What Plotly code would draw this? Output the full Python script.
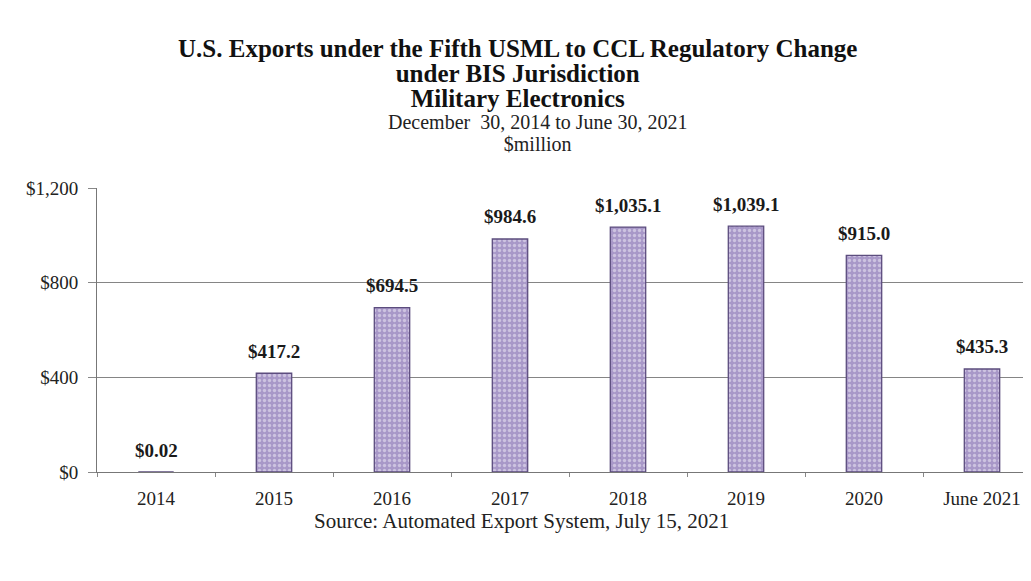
import plotly.graph_objects as go

categories = ["2014", "2015", "2016", "2017", "2018", "2019", "2020", "June 2021"]
values = [0.02, 417.2, 694.5, 984.6, 1035.1, 1039.1, 915.0, 435.3]
labels = ["$0.02", "$417.2", "$694.5", "$984.6", "$1,035.1", "$1,039.1", "$915.0", "$435.3"]
y_ticks = [0, 400, 800, 1200]
y_tick_labels = ["$0", "$400", "$800", "$1,200"]

title_lines = ["U.S. Exports under the Fifth USML to CCL Regulatory Change",
               "under BIS Jurisdiction", "Military Electronics"]
subtitle_lines = ["December  30, 2014 to June 30, 2021", "$million"]
source_text = "Source: Automated Export System, July 15, 2021"

FONT = "Liberation Serif, Times New Roman, serif"

W, H = 1031, 581
OFF = 8  # page body margin
M_L, M_R, M_T, M_B = 89, 0, 180, 117
PLOT_W = W - M_L - M_R
PLOT_H = H - M_T - M_B
BAND = 118.0


def py(yy):
    # screen pixel row -> paper y
    return (H - M_B - (yy - OFF)) / PLOT_H


def px(xx):
    # screen pixel column -> paper x
    return (xx - OFF - M_L) / PLOT_W


fig = go.Figure()
fig.add_trace(go.Bar(
    x=categories, y=values, width=0.3,
    marker=dict(color="#b2a5cf",
                line=dict(color="#5c4d7e", width=1.3),
                pattern=dict(shape=".", fgcolor="#f1eef8", bgcolor="#a898c8",
                             size=5, solidity=0.35)),
    hoverinfo="skip", showlegend=False,
))

for i, (v, t) in enumerate(zip(values, labels)):
    fig.add_annotation(x=i, xref="x", y=v, yref="y", text=f"<b>{t}</b>",
                       showarrow=False, yshift=22,
                       font=dict(family=FONT, size=19, color="#1a1a1a"))

title_html = "<br>".join(
    f'<span style="font-size:25px"><b>{line}</b></span>' for line in title_lines)
fig.add_annotation(x=px(517), xref="paper", y=py(73), yref="paper",
                   text=title_html, showarrow=False, yanchor="middle",
                   font=dict(family=FONT, size=19.2, color="#111"))

subtitle_html = "<br>".join(
    f'<span style="font-size:20px">{line}</span>' for line in subtitle_lines)
fig.add_annotation(x=px(537), xref="paper", y=py(133), yref="paper",
                   text=subtitle_html, showarrow=False, yanchor="middle",
                   font=dict(family=FONT, size=17, color="#222"))

fig.add_annotation(x=px(521), xref="paper", y=py(521), yref="paper",
                   text=source_text, showarrow=False, yanchor="middle",
                   font=dict(family=FONT, size=21, color="#222"))

fig.update_layout(
    width=W, height=H,
    margin=dict(l=M_L, r=M_R, t=M_T, b=M_B),
    paper_bgcolor="white", plot_bgcolor="white",
    font=dict(family=FONT, size=19, color="#222"),
    bargap=0.7,
)
fig.update_xaxes(
    type="category", range=[-0.5, -0.5 + PLOT_W / BAND],
    tickson="boundaries", ticks="outside", ticklen=4, tickcolor="#888",
    showline=True, linecolor="#777", linewidth=1,
    showgrid=False, tickfont=dict(family=FONT, size=19, color="#222"),
    ticklabelstandoff=9,
    fixedrange=True,
)
fig.update_yaxes(
    range=[0, 1200], tickvals=y_ticks, ticktext=y_tick_labels,
    ticks="outside", ticklen=8, tickcolor="#888",
    showline=True, linecolor="#777", linewidth=1,
    showgrid=True, gridcolor="#858585", gridwidth=1.2,
    zeroline=False, tickfont=dict(family=FONT, size=19, color="#222"),
    ticklabelstandoff=6,
    fixedrange=True,
)

fig.write_html("out.html", config={"displayModeBar": False})
